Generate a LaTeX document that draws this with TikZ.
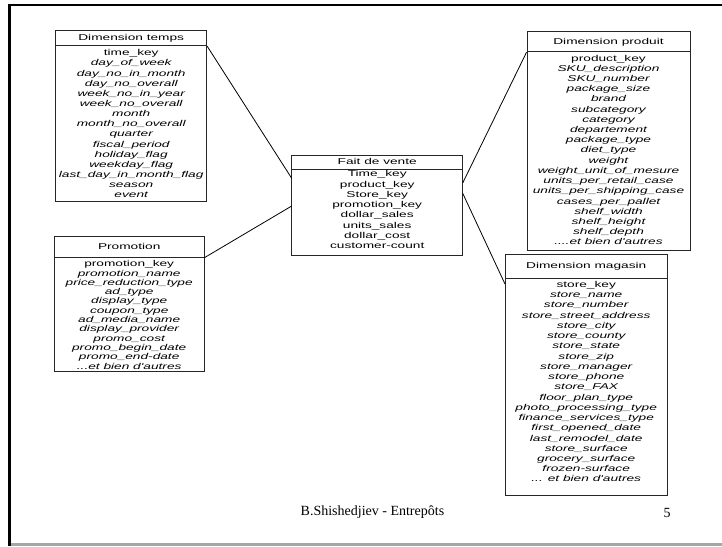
\documentclass[tikz,border=0pt]{standalone}
\usepackage{fontspec}
\setmainfont{Liberation Serif}
\newfontfamily\arialf{Liberation Sans}
\usetikzlibrary{fit}
\newcommand{\sxx}[1]{\scalebox{1.61}[1]{#1}}
\newcommand{\trpts}{...}
\begin{document}
\begin{tikzpicture}[x=1pt,y=-1pt,
  boxpart/.style={draw=black!85, line width=0.8pt, inner sep=0pt},
  row/.style={inner sep=0pt, text height=6.1pt, text depth=1.7pt, font=\arialf\fontsize{8.5}{8.5}\selectfont},
  irow/.style={row, font=\arialf\itshape\fontsize{8.5}{8.5}\selectfont},
  link/.style={draw=black, line width=0.8pt},
  foot/.style={inner sep=0pt, font=\fontsize{14}{14}\selectfont}]
\useasboundingbox (0,0) rectangle (722,546);
\fill[white] (0,0) rectangle (722,546);
% slide frame
\draw[line width=2.5pt] (9.5,546) -- (9.5,5) -- (722,5);
\draw[gray!70, line width=2.5pt] (10.8,544.6) -- (722,544.6);

% ---------- Dimension temps ----------
\node[boxpart, fit={(55.7,30) (206.7,45.7)}] (tempsH) {};
\node[boxpart, fit={(55.7,45.7) (206.7,201.7)}] (tempsB) {};
\node[row] (tempsT) at (131.2,38) {\sxx{Dimension temps}};
\node[row] (temps-0) at (131.2,53.5) {\sxx{time\_key}};
\foreach \t [count=\i] in {day\_of\_week, day\_no\_in\_month, day\_no\_overall, week\_no\_in\_year, week\_no\_overall, month, month\_no\_overall, quarter, fiscal\_period, holiday\_flag, weekday\_flag, last\_day\_in\_month\_flag, season, event}
  \node[irow] (temps-\i) at (131.2,53.5+\i*10.16) {\sxx{\t}};

% ---------- Promotion ----------
\node[boxpart, fit={(54.3,236.7) (204,257.3)}] (promoH) {};
\node[boxpart, fit={(54.3,257.3) (204,371.7)}] (promoB) {};
\node[row] (promoT) at (129.2,247) {\sxx{Promotion}};
\node[row] (promo-0) at (129.2,264.5) {\sxx{promotion\_key}};
\foreach \t [count=\i] in {promotion\_name, price\_reduction\_type, ad\_type, display\_type, coupon\_type, ad\_media\_name, display\_provider, promo\_cost, promo\_begin\_date, promo\_end-date, {\trpts et bien d'autres}}
  \node[irow] (promo-\i) at (129.2,264.5+\i*9.3) {\sxx{\t}};

% ---------- Fait de vente ----------
\node[boxpart, fit={(291.7,155.7) (462.7,169.3)}] (faitH) {};
\node[boxpart, fit={(291.7,169.3) (462.7,255)}] (faitB) {};
\node[row] (faitT) at (377.2,162.5) {\sxx{Fait de vente}};
\foreach \t [count=\i from 0] in {Time\_key, product\_key, Store\_key, promotion\_key, dollar\_sales, units\_sales, dollar\_cost, customer-count}
  \node[row] (fait-\i) at (377.2,174.6+\i*10.25) {\sxx{\t}};

% ---------- Dimension produit ----------
\node[boxpart, fit={(527,31.7) (690,51.7)}] (produitH) {};
\node[boxpart, fit={(527,51.7) (690,250.7)}] (produitB) {};
\node[row] (produitT) at (608.5,42) {\sxx{Dimension produit}};
\node[row] (produit-0) at (608.5,58.8) {\sxx{product\_key}};
\foreach \t [count=\i] in {SKU\_description, SKU\_number, package\_size, brand, subcategory, category, departement, package\_type, diet\_type, weight, weight\_unit\_of\_mesure, units\_per\_retail\_case, units\_per\_shipping\_case, cases\_per\_pallet, shelf\_width, shelf\_height, shelf\_depth, {.\trpts et bien d'autres}}
  \node[irow] (produit-\i) at (608.5,58.8+\i*10.22) {\sxx{\t}};

% ---------- Dimension magasin ----------
\node[boxpart, fit={(505,254) (667.3,278.3)}] (magasinH) {};
\node[boxpart, fit={(505,278.3) (667.3,495)}] (magasinB) {};
\node[row] (magasinT) at (586.2,266) {\sxx{Dimension magasin}};
\node[row] (magasin-0) at (586.2,285.2) {\sxx{store\_key}};
\foreach \t [count=\i] in {store\_name, store\_number, store\_street\_address, store\_city, store\_county, store\_state, store\_zip, store\_manager, store\_phone, store\_FAX, floor\_plan\_type, photo\_processing\_type, finance\_services\_type, first\_opened\_date, last\_remodel\_date, store\_surface, grocery\_surface, frozen-surface, {\trpts{} et bien d'autres}}
  \node[irow] (magasin-\i) at (586.2,285.2+\i*10.24) {\sxx{\t}};

% ---------- connectors ----------
\coordinate (faitA) at (291.7,178.3);
\coordinate (faitBp) at (291.7,206);
\coordinate (faitC) at (462.7,183);
\coordinate (faitD) at (462.7,193.3);
\coordinate (magA) at (505,284);
\draw[link] (tempsH.south east) -- (faitA);
\draw[link] (promoH.south east) -- (faitBp);
\draw[link] (produitH.south west) -- (faitC);
\draw[link] (magA) -- (faitD);

% ---------- footer ----------
\node[foot, anchor=west] (auteur) at (300.5,512.5) {B.Shishedjiev - Entrepôts};
\node[foot] (page) at (667,512.5) {5};
\end{tikzpicture}
\end{document}
